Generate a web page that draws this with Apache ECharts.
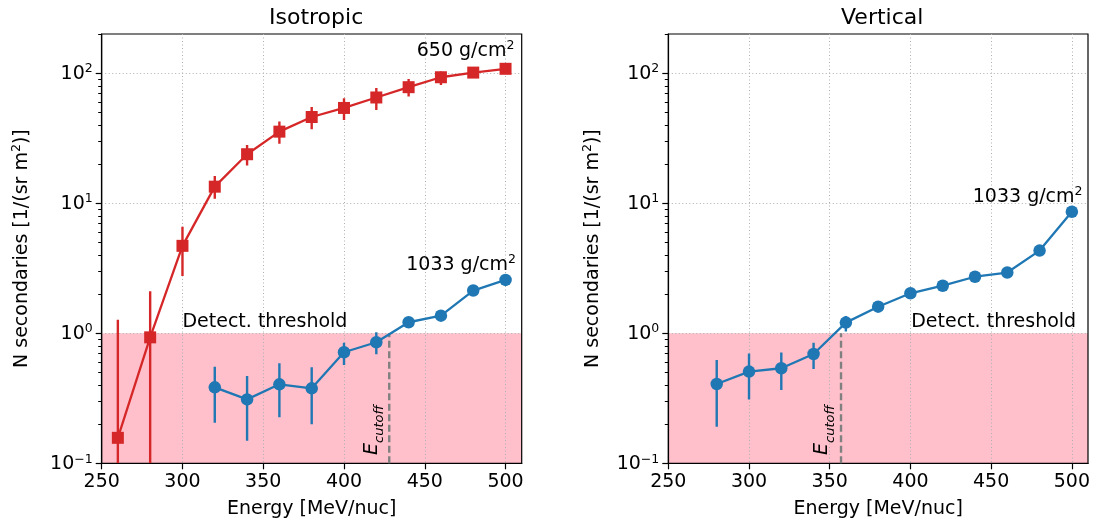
<!DOCTYPE html>
<html><head><meta charset="utf-8">
<script src="https://cdn.jsdelivr.net/npm/echarts@6/dist/echarts.min.js"></script>
<style>html,body{margin:0;padding:0;background:#fff}#c{width:1096px;height:529px}</style>
</head><body><div id="c"></div>
<script>
// ---------- data ----------
const energyIso650 = [260, 280, 300, 320, 340, 360, 380, 400, 420, 440, 460, 480, 500];
const iso650 = [0.157, 0.93, 4.7, 13.4, 23.8, 35.5, 46, 54, 65, 78, 93, 101, 108];
const iso650Lo = [0.1, 0.1, 2.76, 10.8, 19.5, 28.6, 37, 43.7, 52, 66, 81, 95, 102];
const iso650Hi = [1.27, 2.1, 6.6, 16.2, 28, 42.4, 55, 64, 77, 90, 103, 107, 114];

const energyIso1033 = [320, 340, 360, 380, 400, 420, 440, 460, 480, 500];
const iso1033 = [0.384, 0.31, 0.405, 0.377, 0.714, 0.853, 1.215, 1.366, 2.13, 2.57];
const iso1033Lo = [0.205, 0.149, 0.226, 0.2, 0.57, 0.69, 1.13, 1.27, 2.0, 2.45];
const iso1033Hi = [0.553, 0.47, 0.588, 0.548, 0.847, 1.02, 1.3, 1.46, 2.27, 2.7];

const energyVert1033 = [280, 300, 320, 340, 360, 380, 400, 420, 440, 460, 480, 500];
const vert1033 = [0.407, 0.507, 0.538, 0.693, 1.207, 1.6, 2.03, 2.32, 2.72, 2.93, 4.32, 8.6];
const vert1033Lo = [0.191, 0.31, 0.366, 0.531, 1.03, 1.48, 1.9, 2.18, 2.56, 2.76, 4.05, 8.1];
const vert1033Hi = [0.623, 0.70, 0.71, 0.847, 1.36, 1.72, 2.17, 2.46, 2.88, 3.1, 4.6, 9.1];

const cutoffIso = 428;
const cutoffVert = 357;
const threshold = [0.1, 1];

const xRange = [250, 510];
const yRange = [0.1, 200];
const xTicks = [250, 300, 350, 400, 450, 500];
const yMajor = [0.1, 1, 10, 100];
const yMinor = [0.2,0.3,0.4,0.5,0.6,0.7,0.8,0.9,2,3,4,5,6,7,8,9,20,30,40,50,60,70,80,90,200];

const titles = ['Isotropic', 'Vertical'];
const xName = 'Energy [MeV/nuc]';
const yName = '{b|N secondaries [1/(sr m}{sup|2}{b|)]}';

// annotations: [x, y, text]
const annIsoX = [445, 438.5, 300];
const annIsoY = [150, 3.41, 1.215];
const annIsoText = ['{b|650 g/cm}{sup|2}', '{b|1033 g/cm}{sup|2}', '{b|Detect. threshold}'];
const annVertX = [438.6, 400.5];
const annVertY = [11.4, 1.215];
const annVertText = ['{b|1033 g/cm}{sup|2}', '{b|Detect. threshold}'];
const cutLabelIso = [418.7, 0.18];
const cutLabelVert = [346.9, 0.18];

// ---------- styling ----------
const FONT = 'DejaVu Sans';
const RED = '#d62728', BLUE = '#1f77b4';
const RICH = {
  b: {fontSize: 19, fontFamily: FONT, color: '#000', verticalAlign: 'bottom'},
  sup: {fontSize: 12.5, fontFamily: FONT, color: '#000', verticalAlign: 'bottom', padding: [0, 0, 8, 0]}
};
function logLabel(v) {
  const e = Math.round(Math.log10(v));
  return '{b|10}{sup|' + String(e).replace('-', '−') + '}';
}

const grids = [
  {left: 101.7, top: 34, width: 420, height: 429.3},
  {left: 668.3, top: 34, width: 419.7, height: 429.3}
];

function xAxisFor(gi) {
  return {
    gridIndex: gi, type: 'value', min: xRange[0], max: xRange[1], interval: 50, z: 1,
    name: xName, nameLocation: 'middle', nameGap: 36,
    nameTextStyle: {fontSize: 19, color: '#000', fontFamily: FONT},
    axisLine: {show: true, lineStyle: {color: '#000', width: 1.2}},
    axisTick: {show: true, length: 6, customValues: xTicks, lineStyle: {color: '#000', width: 1.2}},
    axisLabel: {customValues: xTicks, fontSize: 19, color: '#000', fontFamily: FONT, margin: 9},
    splitLine: {show: true, lineStyle: {color: '#b0b0b0', width: 1, type: [1, 2.5]}}
  };
}
function yAxisMajor(gi, gap) {
  return {
    gridIndex: gi, type: 'log', logBase: 10, min: yRange[0], max: yRange[1], position: 'left', z: 1,
    name: yName, nameLocation: 'middle', nameGap: gap, nameRotate: 90,
    nameTextStyle: {fontSize: 19, color: '#000', fontFamily: FONT, rich: RICH},
    axisLine: {show: true, lineStyle: {color: '#000', width: 1.2}},
    axisTick: {show: true, length: 6, customValues: yMajor, lineStyle: {color: '#000', width: 1.2}},
    axisLabel: {customValues: yMajor, formatter: logLabel, color: '#000', fontFamily: FONT, margin: 9, rich: RICH},
    splitLine: {show: true, lineStyle: {color: '#b0b0b0', width: 1, type: [1, 2.5]}}
  };
}
function yAxisMinor(gi) {
  return {
    gridIndex: gi, type: 'log', logBase: 10, min: yRange[0], max: yRange[1], position: 'left', z: 1,
    axisLine: {show: false},
    axisTick: {show: true, length: 3.5, customValues: yMinor, lineStyle: {color: '#000', width: 1}},
    axisLabel: {show: false}, splitLine: {show: false}
  };
}

function bandSeries(xi, yi) {
  return {
    type: 'custom', xAxisIndex: xi, yAxisIndex: yi, z: -5, silent: true,
    data: [[xRange[0], threshold[0], xRange[1], threshold[1]]],
    renderItem: (params, api) => {
      const p1 = api.coord([api.value(0), api.value(3)]);
      const p2 = api.coord([api.value(2), api.value(1)]);
      return {type: 'rect', shape: {x: p1[0], y: p1[1], width: p2[0] - p1[0], height: p2[1] - p1[1]},
              style: {fill: '#ffc0cb'}};
    }
  };
}
function errSeries(xi, yi, xs, lo, hi, color) {
  return {
    type: 'custom', xAxisIndex: xi, yAxisIndex: yi, z: 2, clip: true, silent: true,
    data: xs.map((x, i) => [x, lo[i], hi[i]]),
    renderItem: (params, api) => {
      const a = api.coord([api.value(0), api.value(1)]);
      const b = api.coord([api.value(0), api.value(2)]);
      return {type: 'line', shape: {x1: a[0], y1: a[1], x2: b[0], y2: b[1]},
              style: {stroke: color, lineWidth: 2.4}};
    }
  };
}
function lineSeries(xi, yi, xs, ys, color, symbol, size) {
  return {
    type: 'line', xAxisIndex: xi, yAxisIndex: yi, z: 3, silent: true,
    data: xs.map((x, i) => [x, ys[i]]),
    symbol: symbol, symbolSize: size, showAllSymbol: true,
    lineStyle: {color: color, width: 2.3},
    itemStyle: {color: color, borderWidth: 0}
  };
}
function cutoffSeries(xi, yi, x) {
  return {
    type: 'custom', xAxisIndex: xi, yAxisIndex: yi, z: 2.5, silent: true,
    data: [[x, threshold[0], threshold[1]]],
    renderItem: (params, api) => {
      const a = api.coord([api.value(0), api.value(1)]);
      const b = api.coord([api.value(0), api.value(2)]);
      return {type: 'line', shape: {x1: a[0], y1: a[1], x2: b[0], y2: b[1]},
              style: {stroke: '#808080', lineWidth: 2.4, lineDash: [7, 3.5]}};
    }
  };
}
function textSeries(xi, yi, xs, ys, texts) {
  return {
    type: 'custom', xAxisIndex: xi, yAxisIndex: yi, z: 4, silent: true,
    data: xs.map((x, i) => [x, ys[i]]),
    renderItem: (params, api) => {
      const p = api.coord([api.value(0), api.value(1)]);
      return {type: 'text', x: p[0], y: p[1],
              style: {text: texts[params.dataIndex], fill: '#000', fontSize: 19, fontFamily: FONT,
                      align: 'left', verticalAlign: 'middle', rich: RICH}};
    }
  };
}
function cutLabelSeries(xi, yi, pos) {
  return {
    type: 'custom', xAxisIndex: xi, yAxisIndex: yi, z: 4, silent: true,
    data: [pos],
    renderItem: (params, api) => {
      const p = api.coord([api.value(0), api.value(1)]);
      return {type: 'text', x: p[0], y: p[1], rotation: Math.PI / 2,
              style: {text: '{e|E}{s|cutoff}', align: 'center', verticalAlign: 'middle', fill: '#000',
                      rich: {
                        e: {fontSize: 19, fontStyle: 'italic', fontFamily: FONT, verticalAlign: 'bottom', padding: [0, 0, 5, 0]},
                        s: {fontSize: 13, fontStyle: 'italic', fontFamily: FONT, verticalAlign: 'bottom'}
                      }}};
    }
  };
}

const option = {
  backgroundColor: '#fff',
  animation: false,
  title: [
    {text: titles[0], left: 264, top: 2, textStyle: {fontSize: 22, fontWeight: 'normal', color: '#000', fontFamily: FONT}},
    {text: titles[1], left: 836, top: 2, textStyle: {fontSize: 22, fontWeight: 'normal', color: '#000', fontFamily: FONT}}
  ],
  grid: grids.map(g => Object.assign({show: true, z: 1, borderColor: '#000', borderWidth: 1.2, backgroundColor: 'transparent', containLabel: false}, g)),
  xAxis: [xAxisFor(0), xAxisFor(1)],
  yAxis: [yAxisMajor(0, 70), yAxisMinor(0), yAxisMajor(1, 66), yAxisMinor(1)],
  series: [
    bandSeries(0, 0),
    errSeries(0, 0, energyIso650, iso650Lo, iso650Hi, RED),
    errSeries(0, 0, energyIso1033, iso1033Lo, iso1033Hi, BLUE),
    cutoffSeries(0, 0, cutoffIso),
    lineSeries(0, 0, energyIso650, iso650, RED, 'rect', 12),
    lineSeries(0, 0, energyIso1033, iso1033, BLUE, 'circle', 12.5),
    textSeries(0, 0, annIsoX, annIsoY, annIsoText),
    cutLabelSeries(0, 0, cutLabelIso),

    bandSeries(1, 2),
    errSeries(1, 2, energyVert1033, vert1033Lo, vert1033Hi, BLUE),
    cutoffSeries(1, 2, cutoffVert),
    lineSeries(1, 2, energyVert1033, vert1033, BLUE, 'circle', 12.5),
    textSeries(1, 2, annVertX, annVertY, annVertText),
    cutLabelSeries(1, 2, cutLabelVert)
  ]
};
const chart = echarts.init(document.getElementById('c'));
chart.setOption(option);
</script>
</body></html>
